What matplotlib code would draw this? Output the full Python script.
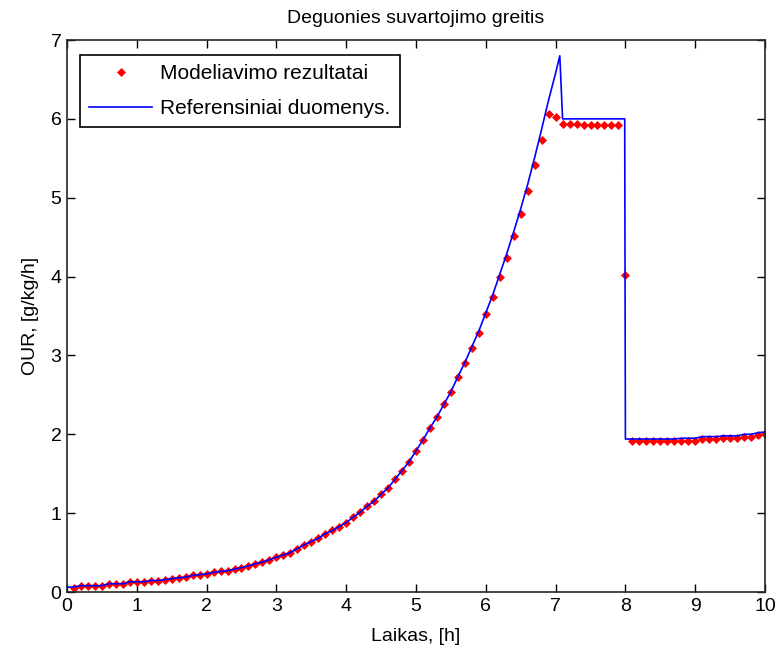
import numpy as np
import matplotlib.pyplot as plt

plt.rcParams['font.family'] = ['Liberation Sans', 'DejaVu Sans']

# model output, sampled every 0.1 h
laikas = np.round(np.arange(1, 101) * 0.1, 1)
modelis = [0.055, 0.08, 0.08, 0.08, 0.08, 0.105, 0.105, 0.105, 0.13, 0.13,
           0.13, 0.145, 0.145, 0.156, 0.17, 0.18, 0.19, 0.21, 0.22, 0.23,
           0.25, 0.26, 0.27, 0.29, 0.31, 0.33, 0.36, 0.38, 0.41, 0.44,
           0.47, 0.50, 0.55, 0.60, 0.64, 0.68, 0.74, 0.78, 0.83, 0.88,
           0.95, 1.01, 1.09, 1.15, 1.24, 1.32, 1.43, 1.54, 1.65, 1.79,
           1.93, 2.08, 2.22, 2.38, 2.54, 2.73, 2.91, 3.10, 3.29, 3.52,
           3.74, 3.99, 4.24, 4.51, 4.79, 5.08, 5.41, 5.73, 6.06, 6.02,
           5.93, 5.93, 5.93, 5.92, 5.92, 5.92, 5.92, 5.92, 5.92, 4.02,
           1.91, 1.91, 1.91, 1.91, 1.91, 1.91, 1.91, 1.92, 1.92, 1.92,
           1.94, 1.94, 1.94, 1.95, 1.95, 1.95, 1.97, 1.97, 1.99, 2.01]

# reference measurements
ref_t = [0.0, 0.1, 0.2, 0.3, 0.4, 0.5, 0.6, 0.7, 0.8, 0.9, 1.0,
         1.1, 1.2, 1.3, 1.4, 1.5, 1.6, 1.7, 1.8, 1.9, 2.0,
         2.1, 2.2, 2.3, 2.4, 2.5, 2.6, 2.7, 2.8, 2.9, 3.0,
         3.1, 3.2, 3.3, 3.4, 3.5, 3.6, 3.7, 3.8, 3.9, 4.0,
         4.1, 4.2, 4.3, 4.4, 4.5, 4.6, 4.7, 4.8, 4.9, 5.0,
         5.1, 5.2, 5.3, 5.4, 5.5, 5.6, 5.7, 5.8, 5.9, 6.0,
         6.1, 6.2, 6.3, 6.4, 6.5, 6.6, 6.7, 6.8, 6.9, 7.0,
         7.06, 7.1, 7.99, 8.0,
         8.1, 8.2, 8.3, 8.4, 8.5, 8.6, 8.7, 8.8, 8.9, 9.0,
         9.1, 9.2, 9.3, 9.4, 9.5, 9.6, 9.7, 9.8, 9.9, 10.0]
ref_our = [0.06, 0.065, 0.08, 0.08, 0.08, 0.08, 0.105, 0.105, 0.105, 0.13, 0.13,
           0.13, 0.145, 0.145, 0.156, 0.17, 0.18, 0.19, 0.21, 0.22, 0.23,
           0.25, 0.26, 0.27, 0.29, 0.31, 0.33, 0.36, 0.38, 0.41, 0.44,
           0.47, 0.50, 0.55, 0.60, 0.64, 0.68, 0.74, 0.78, 0.83, 0.88,
           0.95, 1.01, 1.09, 1.15, 1.24, 1.32, 1.43, 1.54, 1.65, 1.79,
           1.93, 2.08, 2.22, 2.38, 2.54, 2.73, 2.91, 3.11, 3.31, 3.54,
           3.77, 4.03, 4.29, 4.57, 4.86, 5.17, 5.51, 5.87, 6.24, 6.58,
           6.80, 6.00, 6.00, 1.94,
           1.94, 1.94, 1.94, 1.94, 1.94, 1.94, 1.94, 1.95, 1.95, 1.95,
           1.97, 1.97, 1.97, 1.98, 1.98, 1.98, 2.00, 2.00, 2.02, 2.03]

fig = plt.figure(figsize=(7.78, 6.54), dpi=100)
ax = fig.add_axes([0.0861, 0.0948, 0.8972, 0.844])

ax.plot(laikas, modelis, 'rD', ms=4.5, mew=0.5, label='Modeliavimo rezultatai')
ax.plot(ref_t, ref_our, 'b-', lw=1.2, label='Referensiniai duomenys.')

ax.set_xlim(0, 10)
ax.set_ylim(0, 7)
ax.set_xticks(range(0, 11))
ax.set_yticks(range(0, 8))
ax.tick_params(direction='in', length=6, width=1, top=True, right=True,
               labelsize=14, pad=4)
for s in ax.spines.values():
    s.set_linewidth(1.2)
    s.set_color('#262626')

ax.set_title('Deguonies suvartojimo greitis', fontsize=14, pad=12)
ax.set_xlabel('Laikas, [h]', fontsize=14, labelpad=10)
ax.set_ylabel('OUR, [g/kg/h]', fontsize=14, labelpad=8)

leg = ax.legend(loc='upper left', fontsize=15, fancybox=False,
                edgecolor='black', framealpha=1, borderpad=0.45,
                labelspacing=0.75, handlelength=3.0, handletextpad=0.4,
                borderaxespad=0, bbox_to_anchor=(0.0186, 0.973))
leg.get_frame().set_linewidth(1.2)

fig.savefig('out.png', dpi=100)
